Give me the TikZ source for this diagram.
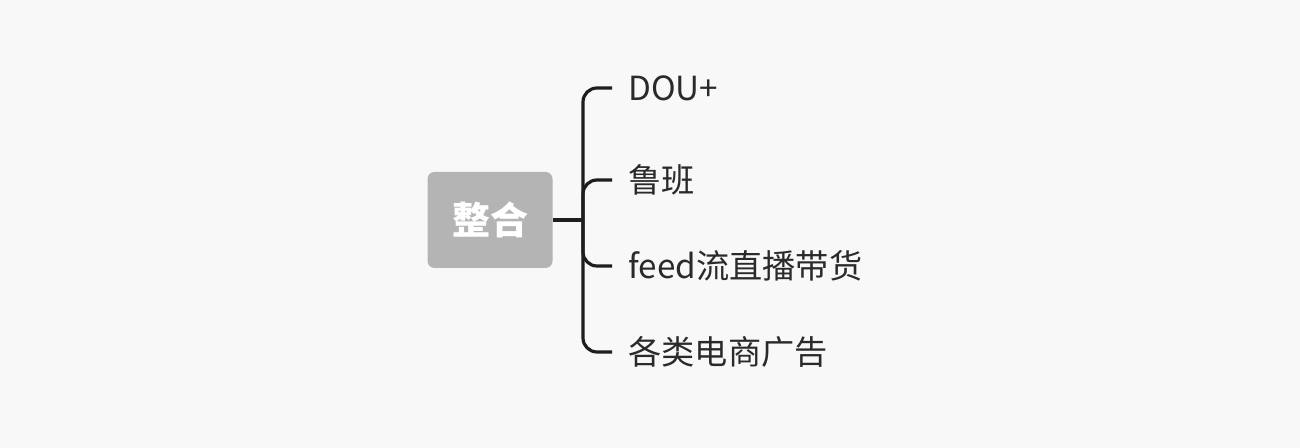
\documentclass[tikz,border=0pt]{standalone}
\usepackage{fontspec}
\setmainfont{Noto Sans CJK SC}
\usetikzlibrary{positioning}
\definecolor{bgcol}{HTML}{F8F8F8}
\definecolor{rootgray}{HTML}{B4B4B4}
\definecolor{linecol}{HTML}{1E1E1E}
\definecolor{textcol}{HTML}{2A2A2A}
\tikzset{
  rootbox/.style={fill=rootgray, rounded corners=3.5pt, minimum width=62.5pt,
    minimum height=48pt, text=white, font=\fontsize{19}{19}\selectfont\bfseries},
  leaf/.style={anchor=west, inner sep=0pt, text=textcol,
    font=\fontsize{16.6}{16.6}\selectfont},
  branch/.style={line width=1.6pt, draw=linecol, rounded corners=7pt, shorten >=8pt}
}

\begin{document}
\begin{tikzpicture}[x=0.5pt, y=0.5pt]
  \fill[bgcol] (0,0) rectangle (1300,448);
  \useasboundingbox (0,0) rectangle (1300,448);

  \node[rootbox] (root) at (490,228) {整合};
  \coordinate (fork) at (583,228);
  \draw[line width=1.6pt, linecol] (root.east) -- (fork);

  \foreach \name/\yy/\txt in {dou/360/DOU+, luban/268/鲁班, feed/182/feed流直播带货, ads/96/各类电商广告}{
    \node[leaf] (\name) at (628,\yy) {\txt};
    \draw[branch] (fork) |- (\name.west);
  }
\end{tikzpicture}
\end{document}
